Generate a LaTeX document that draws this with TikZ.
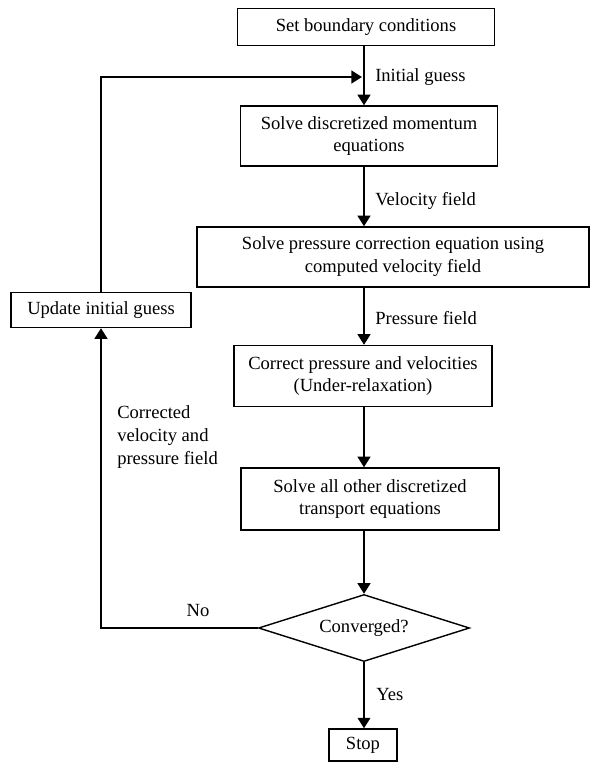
\documentclass[tikz,border=0pt]{standalone}
\usepackage{fontspec}
\setmainfont{Liberation Serif}
\usepackage{tikz}
\usetikzlibrary{shapes.geometric, arrows.meta, positioning, calc}

\begin{document}
\begin{tikzpicture}[x=0.025cm, y=-0.025cm,
    arr/.style={-{Triangle[width=9pt,length=7.5pt]}, line width=1.5pt},
    box/.style={draw, line width=1pt, align=center, inner sep=2pt,
      font=\fontsize{13.2}{16.3}\selectfont},
    decision/.style={draw, diamond, aspect=3.15, line width=1pt, inner sep=0pt,
      font=\fontsize{13.2}{16.3}\selectfont},
    lbl/.style={font=\fontsize{13.2}{16.3}\selectfont, inner sep=0pt}]
  \useasboundingbox (0,0) rectangle (590,762);

  % main column
  \node[box, minimum width=6.425cm, minimum height=0.925cm] (bc) at (366,27) {Set boundary conditions};
  \node[box, minimum width=6.425cm, minimum height=1.5cm] (mom) at (369,136) {Solve discretized momentum\\equations};
  \node[box, minimum width=9.8cm, minimum height=1.5cm] (pc) at (393,257) {Solve pressure correction equation using\\computed velocity field};
  \node[box, minimum width=6.45cm, minimum height=1.525cm] (corr) at (363,376) {Correct pressure and velocities\\(Under-relaxation)};
  \node[box, minimum width=6.45cm, minimum height=1.55cm] (trans) at (370,499) {Solve all other discretized\\transport equations};
  \node[decision, minimum width=5.275cm, minimum height=1.675cm] (conv) at (364,628) {Converged?};
  \node[box, minimum width=1.7cm, minimum height=0.8cm] (stop) at (363,745) {Stop};

  % loop box
  \node[box, minimum width=4.5cm, minimum height=0.875cm] (upd) at (101,310) {Update initial guess};

  % arrows down the column
  \coordinate (entry) at (362,77);
  \draw[arr] (bc.south -| 364,0) -- (mom.north -| 364,0);
  \draw[arr] (mom.south -| 364,0) -- (pc.north -| 364,0);
  \draw[arr] (pc.south -| 364,0) -- (corr.north -| 364,0);
  \draw[arr] (corr.south -| 364,0) -- (trans.north -| 364,0);
  \draw[arr] (trans.south -| 364,0) -- (conv.north);
  \draw[arr] (conv.south) -- (stop.north -| 364,0);

  % feedback loop
  \draw[arr] (conv.west) -- (conv.west -| upd) -- (upd.south);
  \draw[arr] (upd.north) |- (entry);

  % labels
  \node[lbl, anchor=west] (lig) at (375,77) {Initial guess};
  \node[lbl, anchor=west] (lvf) at (375,201) {Velocity field};
  \node[lbl, anchor=west] (lpf) at (375,318) {Pressure field};
  \node[lbl, anchor=west] (lyes) at (376,695) {Yes};
  \node[lbl] (lno) at (198,611) {No};
  \node[lbl, anchor=west, align=left] (lcvp) at (117,437) {Corrected\\velocity and\\pressure field};
\end{tikzpicture}
\end{document}
